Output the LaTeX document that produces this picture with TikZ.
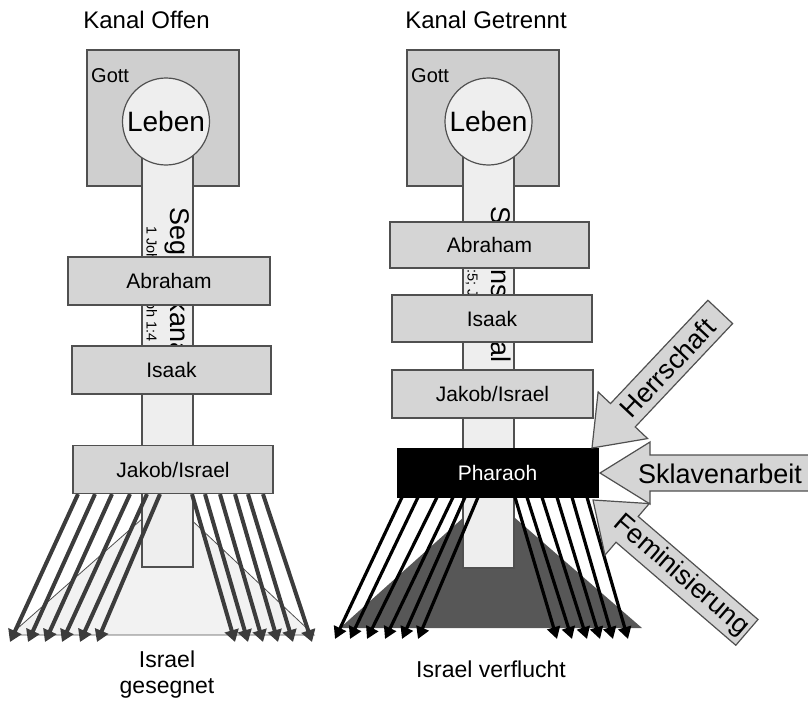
\documentclass[tikz,border=0pt]{standalone}
\usepackage{fontspec}
\setmainfont{Liberation Sans}
\usetikzlibrary{arrows.meta,calc}
\definecolor{boxgray}{HTML}{D5D5D5}
\definecolor{gottgray}{HTML}{CFCFCF}
\definecolor{palegray}{HTML}{EEEEEE}
\definecolor{edgegray}{HTML}{505050}
\definecolor{fangray}{HTML}{3C3C3C}
\definecolor{darktri}{HTML}{575757}
\definecolor{paletri}{HTML}{F2F2F2}
\pgfdeclarelayer{back}
\pgfdeclarelayer{fan}
\pgfsetlayers{back,fan,main}
\begin{document}
\begin{tikzpicture}[x=1pt,y=-1pt,
  titletext/.style={font=\fontsize{24}{28}\selectfont, inner sep=0pt},
  gottbox/.style={draw=edgegray, fill=gottgray, line width=1.2pt, minimum width=152pt, minimum height=136pt, inner sep=0pt},
  gotttext/.style={font=\fontsize{20}{22}\selectfont, inner sep=0pt},
  lifecircle/.style={circle, draw=edgegray, fill=palegray, line width=1.2pt, minimum size=87pt, inner sep=0pt, font=\fontsize{28}{30}\selectfont},
  channel/.style={draw=edgegray, fill=palegray, line width=1.2pt, minimum width=51pt, minimum height=446pt, inner sep=0pt},
  chanbig/.style={font=\fontsize{27}{30}\selectfont, inner sep=0pt, anchor=west, rotate=-90},
  chansmall/.style={font=\fontsize{14.5}{16}\selectfont, inner sep=0pt, anchor=west, rotate=-90},
  namebox/.style={draw=edgegray, fill=boxgray, line width=1.2pt, minimum height=48pt, inner sep=0pt, font=\fontsize{21}{24}\selectfont},
  pharaobox/.style={draw=black, fill=black, text=white, minimum height=49pt, minimum width=201pt, inner sep=0pt, font=\fontsize{21}{24}\selectfont},
  fanleft/.style={draw=fangray, line width=4pt, -{Triangle[length=12pt,width=14pt]}},
  fanright/.style={draw=black, line width=3.2pt, -{Triangle[length=12pt,width=13pt]}},
  blockarrow/.style={draw=edgegray, fill=boxgray, line width=1.2pt, line join=miter},
  arrowtext/.style={font=\fontsize{27}{30}\selectfont, inner sep=0pt},
  bottomtext/.style={font=\fontsize{23}{26}\selectfont, inner sep=0pt, align=center}
]
\useasboundingbox (0,0) rectangle (808,701);
\clip (0,0) rectangle (808,701);

% ---------------- titles
\node[titletext, anchor=base] (titleL) at (146.5,29) {Kanal Offen};
\node[titletext, anchor=base] (titleR) at (486,29) {Kanal Getrennt};

\begin{pgfonlayer}{back}
% ---------------- God boxes
\node[gottbox] (gottL) at (163,118) {};
\node[gotttext, anchor=base west] (gottTxtL) at (91,82) {Gott};
\node[gottbox] (gottR) at (483,118) {};
\node[gotttext, anchor=base west] (gottTxtR) at (411,82) {Gott};

% ---------------- triangles (people)
\coordinate (triLa) at (10,635);
\coordinate (triLb) at (314,635);
\coordinate (triLc) at (167,497);
\draw[draw=edgegray, fill=paletri, line width=0.8pt] (triLa) -- (triLb) -- (triLc) -- cycle;
\coordinate (triRa) at (340,628);
\coordinate (triRb) at (642,628);
\coordinate (triRc) at (488.5,495);
\fill[darktri] (triRa) -- (triRb) -- (triRc) -- cycle;

% ---------------- channels
\node[channel] (chanL) at (167.5,344) {};
\node[channel] (chanR) at (488.5,345) {};

% ---------------- circles
\node[lifecircle] (lebenL) at (166,121.5) {Leben};
\node[lifecircle] (lebenR) at (488.5,121.5) {Leben};

% ---------------- channel texts
\node[chanbig] (segL) at (177,207) {Segenskanal};
\node[chansmall] (refL) at (151,226) {1 Joh 1:5; Joh 1:4};
\node[chanbig] (segR) at (498,206) {Segenskanal};
\node[chansmall] (refR) at (472,222) {1 Joh 1:5; Joh 1:4};
\end{pgfonlayer}

% ---------------- name boxes (drawn over channels)
\node[namebox, minimum width=202pt] (abrL) at (169,281) {Abraham};
\node[namebox, minimum width=199pt] (isaL) at (171.5,370) {Isaak};
\node[namebox, minimum width=200pt] (jakL) at (173,469.5) {Jakob/Israel};

\node[namebox, minimum width=199pt, minimum height=46pt] (abrR) at (489.5,245) {Abraham};
\node[namebox, minimum width=200pt, minimum height=47pt] (isaR) at (492,318.5) {Isaak};
\node[namebox, minimum width=201pt] (jakR) at (492.5,394) {Jakob/Israel};
\node[pharaobox] (phar) at (497.5,472.5) {Pharaoh};

% ---------------- fan arrows (below the boxes)
\begin{pgfonlayer}{fan}
\foreach \s/\t [count=\i] in {78/10, 95/28, 112/45, 130/62, 147/80, 160/97,
                              192/235, 205/248, 220/263, 235/278, 248/293, 263/312} {
  \coordinate (lfs\i) at (\s,0 |- jakL.south);
  \coordinate (lft\i) at (\t,642);
  \draw[fanleft] (lfs\i) -- (lft\i);
}
\foreach \s/\t [count=\i] in {402/335, 418/350, 437/367, 453/385, 465/402, 478/418,
                              515/557, 527/572, 542/587, 557/600, 572/613, 587/628} {
  \coordinate (rfs\i) at (\s,0 |- phar.south);
  \coordinate (rft\i) at (\t,639);
  \draw[fanright] (rfs\i) -- (rft\i);
}
\end{pgfonlayer}

% ---------------- block arrows
\coordinate (herrTip) at (592,448);
\begin{scope}[shift={(herrTip)}, rotate=46.7]
  \draw[blockarrow] (0,0) -- (45,34) -- (45,17) -- (187,17) -- (187,-17) -- (45,-17) -- (45,-34) -- cycle;
  \node[arrowtext, rotate=46.7] (herrTxt) at (110,0) {Herrschaft};
\end{scope}

\coordinate (sklTip) at (600,473);
\draw[blockarrow] (sklTip) -- ++(50,-31) -- ++(0,13) -- ++(175,0) -- ++(0,36) -- ++(-175,0) -- ++(0,13) -- cycle;
\node[arrowtext] (sklTxt) at (720,474) {Sklavenarbeit};

\coordinate (femTip) at (593,500);
\begin{scope}[shift={(femTip)}, rotate=-40.7]
  \draw[blockarrow] (0,0) -- (45,34) -- (45,17) -- (203,17) -- (203,-17) -- (45,-17) -- (45,-34) -- cycle;
  \node[arrowtext, rotate=-40.7] (femTxt) at (116,0) {Feminisierung};
\end{scope}

% ---------------- bottom labels
\node[bottomtext, anchor=north] (israelL) at (167,651) {Israel\\gesegnet};
\node[bottomtext, anchor=base] (israelR) at (491,677) {Israel verflucht};
\end{tikzpicture}
\end{document}
